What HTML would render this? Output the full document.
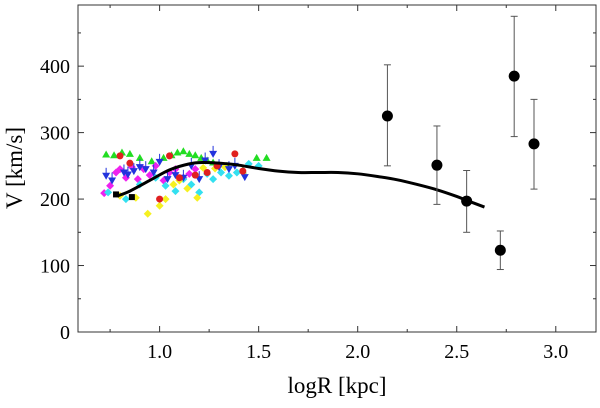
<!DOCTYPE html>
<html><head><meta charset="utf-8"><style>
html,body{margin:0;padding:0;background:#fff;}
svg, svg text{font-family:"Liberation Serif","DejaVu Serif",serif;}
</style></head><body>
<svg id="chart" width="600" height="403" viewBox="0 0 600 403" xmlns="http://www.w3.org/2000/svg" font-family="Liberation Serif, serif">
<g id="marks"></g>
<rect x="78" y="5" width="518" height="327" fill="none" stroke="#333" stroke-width="1"/>
<g id="axes"></g>
<text x="0" y="0" transform="translate(22,168) rotate(-90)" text-anchor="middle" font-size="23" font-family="Liberation Serif, serif">V [km/s]</text>
<text x="337" y="393" text-anchor="middle" font-size="23" font-family="Liberation Serif, serif">logR [kpc]</text>
</svg>
<script>
const xTicks=[1.0,1.5,2.0,2.5,3.0];
const yTicks=[0,100,200,300,400];
const xMinor=[0.75,1.25,1.75,2.25,2.75];
const yMinor=[50,150,250,350,450];
const curveX=[0.79,0.85,0.95,1.05,1.15,1.22,1.3,1.4,1.5,1.6,1.7,1.8,1.9,2.0,2.1,2.2,2.3,2.4,2.5,2.55,2.64];
const curveY=[205,212,228,244,253,255,254,251,246,242,240,240,240,238,234,229,222,214,204,198,188];
const outerX=[2.15,2.40,2.55,2.72,2.79,2.89];
const outerY=[325,251,197,123,385,283];
const outerLo=[250,192,150,94,294,215];
const outerHi=[402,310,243,152,475,350];
const greenX=[0.73,0.77,0.81,0.85,0.9,0.96,1.02,1.06,1.09,1.12,1.15,1.18,1.21,1.24,1.27,1.3,1.34,1.42,1.49,1.54];
const greenY=[267,266,270,268,262,257,262,266,270,272,268,266,262,258,255,252,250,243,262,262];
const redX=[0.8,0.85,1.0,1.05,1.1,1.18,1.24,1.29,1.38,1.42];
const redY=[265,254,200,265,232,236,240,250,268,242];
const blueX=[0.73,0.76,0.82,0.84,0.87,0.9,0.93,0.97,1.0,1.04,1.08,1.12,1.16,1.2,1.23,1.27,1.3,1.35,1.38,1.43];
const blueY=[235,228,240,237,242,248,245,240,256,230,236,232,250,230,258,268,248,245,250,233];
const magX=[0.72,0.75,0.78,0.8,0.83,0.86,0.89,0.92,0.95,0.98,1.02,1.05,1.08,1.12,1.15,1.18];
const magY=[209,220,240,245,232,248,230,245,236,250,228,240,245,232,238,245];
const cyanX=[0.74,0.83,0.9,0.98,1.03,1.08,1.12,1.16,1.2,1.24,1.27,1.31,1.35,1.39,1.45,1.5];
const cyanY=[210,200,222,232,220,212,230,222,210,238,230,240,235,240,253,250];
const yellowX=[0.8,0.88,0.94,1.0,1.03,1.07,1.1,1.14,1.19,1.22,1.28,1.33];
const yellowY=[205,202,178,190,200,222,228,216,202,247,246,248];
const blackX=[0.78,0.86];
const blackY=[207,203];
const XMIN=0.588,XMAX=3.203,YMIN=0,YMAX=492;
const L=78,R=596,T=5,B=332;
function sx(v){return L+(v-XMIN)/(XMAX-XMIN)*(R-L);}
function sy(v){return B-(v-YMIN)/(YMAX-YMIN)*(B-T);}
const NS="http://www.w3.org/2000/svg";
const FF="Liberation Serif, serif";
const marks=document.getElementById('marks'),axes=document.getElementById('axes');
function mk(tag,at,parent){const e=document.createElementNS(NS,tag);for(const k in at)e.setAttribute(k,at[k]);parent.appendChild(e);return e;}
xTicks.forEach(v=>{const x=sx(v);
 const t=mk('line',{x1:x,x2:x,y1:B,y2:B-6,stroke:'#333'},axes);
 
 
 mk('line',{x1:x,x2:x,y1:T,y2:T+6,stroke:'#333'},axes);
 const l=mk('text',{x:x,y:358,'text-anchor':'middle','font-size':'20','font-family':FF},axes);l.textContent=v.toFixed(1);
 
 });
xMinor.forEach(v=>{const x=sx(v);mk('line',{x1:x,x2:x,y1:B,y2:B-3,stroke:'#333'},axes);mk('line',{x1:x,x2:x,y1:T,y2:T+3,stroke:'#333'},axes);});
yTicks.forEach(v=>{const y=sy(v);
 const t=mk('line',{x1:L,x2:L+6,y1:y,y2:y,stroke:'#333'},axes);
 
 
 mk('line',{x1:R,x2:R-6,y1:y,y2:y,stroke:'#333'},axes);
 const l=mk('text',{x:70,y:y+7,'text-anchor':'end','font-size':'20','font-family':FF},axes);l.textContent=v;
 
 });
yMinor.forEach(v=>{const y=sy(v);mk('line',{x1:L,x2:L+3,y1:y,y2:y,stroke:'#333'},axes);mk('line',{x1:R,x2:R-3,y1:y,y2:y,stroke:'#333'},axes);});
function scatter(xs,ys,color,shape,name){xs.forEach((xv,i)=>{const x=sx(xv),y=sy(ys[i]);let e;
 if(shape==='tri')e=mk('polygon',{points:`${x},${y-4} ${x-4},${y+3} ${x+4},${y+3}`,fill:color},marks);
 else if(shape==='dtri'){mk('line',{x1:x,x2:x,y1:y-8,y2:y,stroke:color},marks);e=mk('polygon',{points:`${x},${y+4} ${x-4},${y-3} ${x+4},${y-3}`,fill:color},marks);}
 else if(shape==='dia')e=mk('polygon',{points:`${x},${y-4} ${x+4},${y} ${x},${y+4} ${x-4},${y}`,fill:color},marks);
 else if(shape==='sq')e=mk('rect',{x:x-3,y:y-3,width:6,height:6,fill:color},marks);
 else e=mk('circle',{cx:x,cy:y,r:3.5,fill:color},marks);
 
 });}
scatter(greenX,greenY,'#22dd22','tri','green-point');
scatter(magX,magY,'#ee22ee','dia','magenta-point');
scatter(cyanX,cyanY,'#33e0f0','dia','cyan-point');
scatter(yellowX,yellowY,'#f5f020','dia','yellow-point');
scatter(blueX,blueY,'#2233dd','dtri','blue-point');
scatter(redX,redY,'#e02020','circ','red-point');
scatter(blackX,blackY,'#000','sq','black-point');
// smooth curve (Catmull-Rom)
const P=curveX.map((v,i)=>[sx(v),sy(curveY[i])]);
let d='M'+P[0][0]+','+P[0][1];
for(let i=0;i<P.length-1;i++){const p0=P[Math.max(0,i-1)],p1=P[i],p2=P[i+1],p3=P[Math.min(P.length-1,i+2)];
 d+='C'+(p1[0]+(p2[0]-p0[0])/6)+','+(p1[1]+(p2[1]-p0[1])/6)+' '+(p2[0]-(p3[0]-p1[0])/6)+','+(p2[1]-(p3[1]-p1[1])/6)+' '+p2[0]+','+p2[1];}
const c=mk('path',{d:d,fill:'none',stroke:'#000','stroke-width':3,'stroke-linejoin':'round'},marks);


outerX.forEach((v,i)=>{const x=sx(v);
 const g=mk('g',{},marks);
 
 
 mk('line',{x1:x,x2:x,y1:sy(outerLo[i]),y2:sy(outerHi[i]),stroke:'#555','stroke-width':1},g);
 mk('line',{x1:x-3.5,x2:x+3.5,y1:sy(outerLo[i]),y2:sy(outerLo[i]),stroke:'#555'},g);
 mk('line',{x1:x-3.5,x2:x+3.5,y1:sy(outerHi[i]),y2:sy(outerHi[i]),stroke:'#555'},g);
 mk('circle',{cx:x,cy:sy(outerY[i]),r:5.5,fill:'#000'},g);});
</script>
</body></html>
